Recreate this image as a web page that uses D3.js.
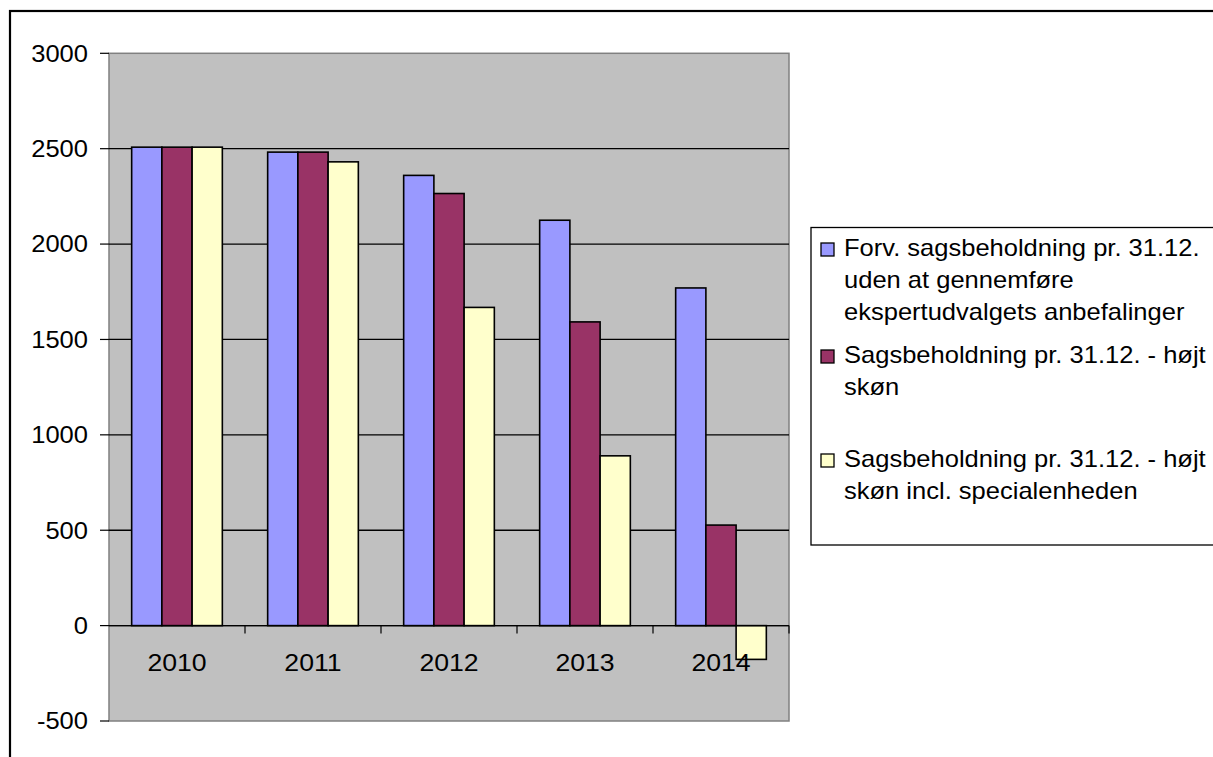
<!DOCTYPE html>
<html><head><meta charset="utf-8">
<script src="https://cdn.jsdelivr.net/npm/d3@7"></script>
<style>
body{margin:0;background:#fff;overflow:hidden}
svg{display:block;font-family:"Liberation Sans",Arial,sans-serif}
</style></head><body>
<svg id="c" width="1213" height="757"></svg>
<script>
const categories = ["2010","2011","2012","2013","2014"];
const seriesNames = [
  ["Forv. sagsbeholdning pr. 31.12.","uden at gennemføre","ekspertudvalgets anbefalinger"],
  ["Sagsbeholdning pr. 31.12. - højt","skøn"],
  ["Sagsbeholdning pr. 31.12. - højt","skøn incl. specialenheden"]
];
const forventet = [2508, 2482, 2360, 2125, 1770];
const hojtSkon = [2508, 2482, 2265, 1592, 527];
const hojtSkonSpecial = [2508, 2431, 1668, 890, -177];
const yTicks = [-500, 0, 500, 1000, 1500, 2000, 2500, 3000];
const colors = ["#9999FF", "#993366", "#FFFFCC"];

const series = [forventet, hojtSkon, hojtSkonSpecial];
const svg = d3.select("#c");
const P = {l:109, r:789, t:53.3, b:721};
const SX = 1.11;

// outer frame
svg.append("rect").attr("x",10).attr("y",11).attr("width",1400).attr("height",1000)
  .attr("fill","#fff").attr("stroke","#000").attr("stroke-width",2.2);

const y = d3.scaleLinear().domain([-500,3000]).range([P.b,P.t]);
const x0 = d3.scaleBand().domain(categories).range([P.l,P.r]).paddingInner(1/3).paddingOuter(1/6);
const x1 = d3.scaleBand().domain([0,1,2]).range([0,x0.bandwidth()]);
const step = x0.step();

// plot area
svg.append("rect").attr("x",P.l).attr("y",P.t).attr("width",P.r-P.l).attr("height",P.b-P.t)
  .attr("fill","#C0C0C0").attr("stroke","#808080").attr("stroke-width",1.5);

// gridlines
svg.append("g").selectAll("line").data(yTicks.filter(d=>d>-500 && d<3000)).join("line")
  .attr("x1",P.l).attr("x2",P.r).attr("y1",d=>y(d)).attr("y2",d=>y(d))
  .attr("stroke","#000").attr("stroke-width",1.3);

// bars
const g = svg.append("g");
categories.forEach((c,i)=>{
  series.forEach((s,j)=>{
    const v = s[i];
    g.append("rect")
      .attr("x", x0(c)+x1(j)).attr("width", x1.bandwidth())
      .attr("y", y(Math.max(0,v))).attr("height", Math.abs(y(v)-y(0)))
      .attr("fill", colors[j]).attr("stroke","#000").attr("stroke-width",1.6);
  });
});

// zero axis line
svg.append("line").attr("x1",P.l).attr("x2",P.r).attr("y1",y(0)).attr("y2",y(0))
  .attr("stroke","#000").attr("stroke-width",1.3);
// category ticks
svg.append("g").selectAll("line").data(d3.range(1,categories.length+1)).join("line")
  .attr("x1",d=>P.l+step*d).attr("x2",d=>P.l+step*d)
  .attr("y1",y(0)).attr("y2",y(0)+8).attr("stroke","#000").attr("stroke-width",1.2);

// y ticks and labels
svg.append("g").selectAll("line").data(yTicks).join("line")
  .attr("x1",P.l-9).attr("x2",P.l).attr("y1",d=>y(d)).attr("y2",d=>y(d))
  .attr("stroke","#000").attr("stroke-width",1.2);
svg.append("g").selectAll("text").data(yTicks).join("text")
  .attr("transform",d=>`translate(88,${y(d)+8.3}) scale(${SX},1)`)
  .attr("text-anchor","end").attr("font-size",23).attr("fill","#000").text(d=>d);

// x labels
svg.append("g").selectAll("text").data(categories).join("text")
  .attr("transform",d=>`translate(${x0(d)+x0.bandwidth()/2},${y(0)+45}) scale(${SX},1)`)
  .attr("text-anchor","middle").attr("font-size",24).attr("fill","#000").text(d=>d);

// legend
svg.append("rect").attr("x",811).attr("y",227.5).attr("width",600).attr("height",317.5)
  .attr("fill","#fff").attr("stroke","#000").attr("stroke-width",1.3);
const itemTop = [256, 363, 467];
const lineH = 32;
seriesNames.forEach((lines,j)=>{
  svg.append("rect").attr("x",821).attr("y",itemTop[j]-13).attr("width",13).attr("height",13)
    .attr("fill",colors[j]).attr("stroke","#000").attr("stroke-width",1.3);
  lines.forEach((t,k)=>{
    svg.append("text").attr("transform",`translate(844,${itemTop[j]+k*lineH}) scale(${SX},1)`)
      .attr("font-size",23).attr("fill","#000").text(t);
  });
});
</script>
</body></html>
